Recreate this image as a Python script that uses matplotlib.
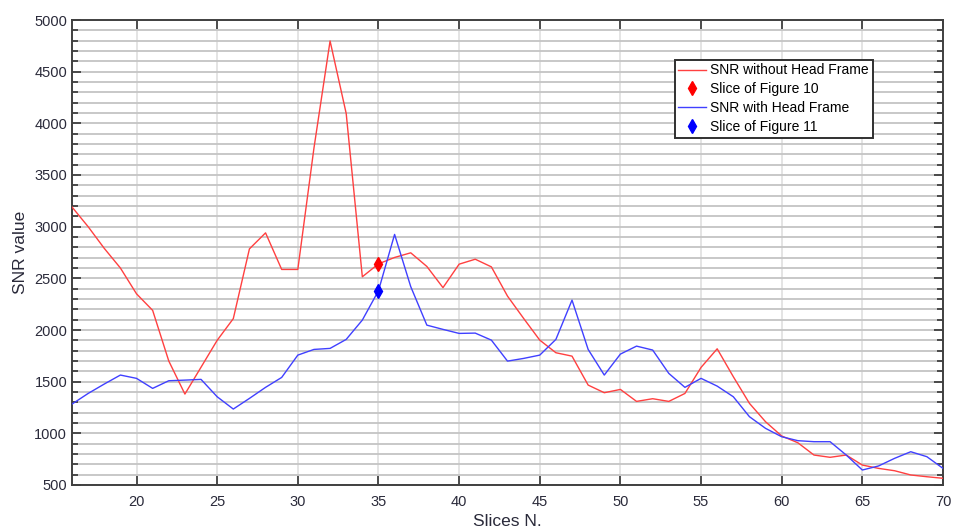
import matplotlib
matplotlib.use("Agg")
import matplotlib.pyplot as plt
from matplotlib.ticker import MultipleLocator

plt.rcParams['font.family'] = ['Liberation Sans', 'DejaVu Sans']

slices = list(range(16, 71))
snr_without = [3190, 3000, 2790, 2600, 2350, 2190, 1700, 1380, 1640, 1900,
               2110, 2785, 2940, 2586, 2586, 3760, 4797, 4095, 2515, 2640,
               2702, 2747, 2615, 2410, 2637, 2685, 2611, 2328, 2112, 1902,
               1780, 1747, 1467, 1393, 1425, 1309, 1335, 1309, 1386, 1638,
               1818, 1548, 1290, 1112, 974, 909, 790, 768, 790, 693,
               661, 638, 597, 580, 565]
snr_with = [1283, 1386, 1477, 1564, 1532, 1435, 1509, 1515, 1522, 1354,
            1235, 1338, 1445, 1541, 1757, 1812, 1822, 1909, 2096, 2380,
            2925, 2420, 2047, 2006, 1967, 1970, 1902, 1699, 1725, 1757,
            1909, 2289, 1812, 1564, 1767, 1844, 1806, 1580, 1445, 1532,
            1457, 1354, 1161, 1048, 967, 929, 919, 919, 790, 645,
            684, 758, 822, 774, 661]
marked_slice = 35
mark_without = 2640
mark_with = 2380

labels = ["SNR without Head Frame", "Slice of Figure 10",
          "SNR with Head Frame", "Slice of Figure 11"]

fig = plt.figure(figsize=(9.54, 5.32), dpi=100)
ax = fig.add_axes([72/954, 47/532, 871/954, 465/532])

red = '#ff4040'
blue = '#4040ff'
ax.plot(slices, snr_without, color=red, lw=1.0, label=labels[0], zorder=3)
ax.plot([marked_slice], [mark_without], linestyle='none', marker='d',
        color='#ff0000', markersize=7, label=labels[1], zorder=4)
ax.plot(slices, snr_with, color=blue, lw=1.0, label=labels[2], zorder=3)
ax.plot([marked_slice], [mark_with], linestyle='none', marker='d',
        color='#0000ff', markersize=7, label=labels[3], zorder=4)

ax.set_xlim(16, 70)
ax.set_ylim(500, 5000)
ax.xaxis.set_major_locator(MultipleLocator(5))
ax.yaxis.set_major_locator(MultipleLocator(500))
ax.yaxis.set_minor_locator(MultipleLocator(100))

ax.grid(axis='x', which='major', color='#e2e2e2', lw=1.3, zorder=0)
ax.grid(axis='y', which='both', color='#c4c4c4', lw=1.3, zorder=0)
ax.set_axisbelow(True)

ax.tick_params(which='both', direction='in', top=True, right=True,
               labelsize=10.5, labelcolor='#2a2a3a', color='#333333')
ax.tick_params(which='major', length=6.5, width=1.2)
ax.tick_params(which='minor', length=4, width=1.2)
ax.tick_params(axis='x', which='major', pad=7)
for s in ax.spines.values():
    s.set_color('#404040')
    s.set_linewidth(1.4)

ax.set_xlabel("Slices N.", fontsize=12.5, color='#2a2a3a', labelpad=4)
ax.set_ylabel("SNR value", fontsize=12.5, color='#2a2a3a', labelpad=4.5)

leg = ax.legend(loc='upper left', bbox_to_anchor=((675-72)/871, (485-60)/465),
                borderaxespad=0, fontsize=10, handlelength=2.0,
                handletextpad=0.3, labelspacing=0.35, borderpad=0.25,
                fancybox=False, framealpha=1, edgecolor='#303030')
leg.get_frame().set_linewidth(1.4)

fig.savefig("out.png", dpi=100)
